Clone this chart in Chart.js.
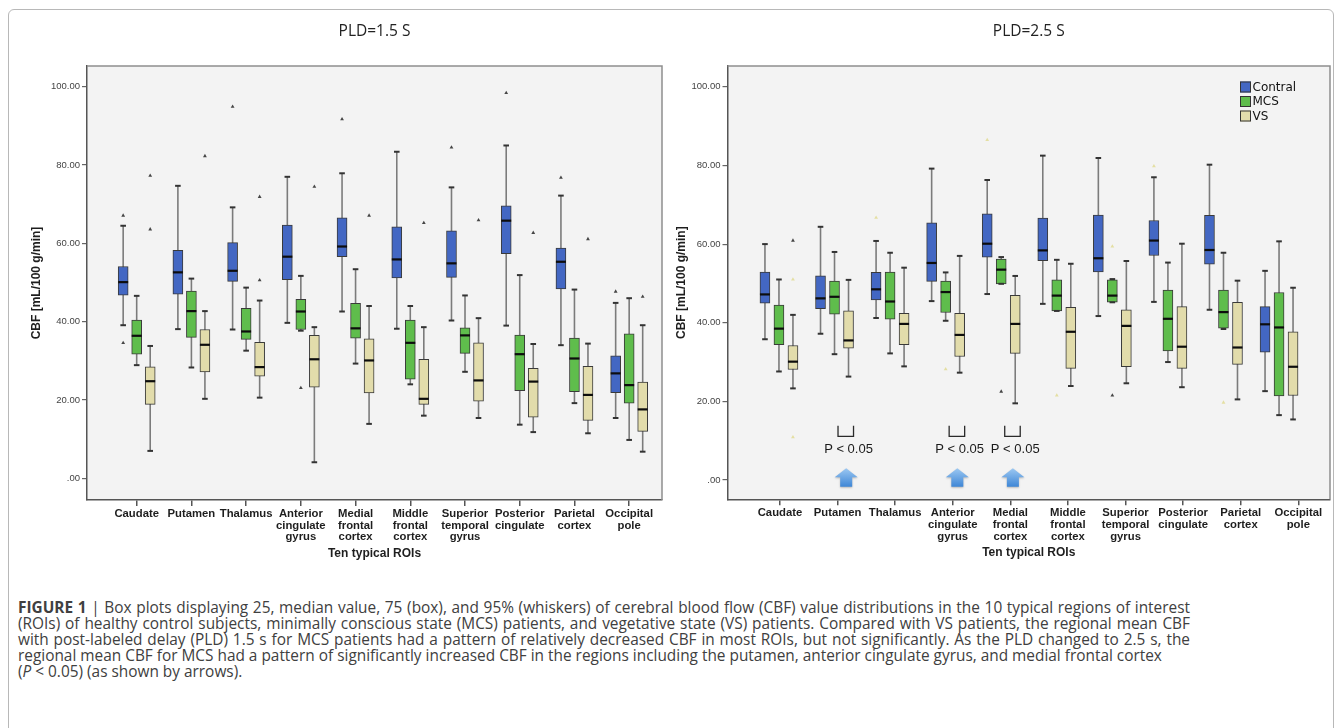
<!DOCTYPE html>
<html>
<head>
<meta charset="utf-8">
<script src="https://cdn.jsdelivr.net/npm/chart.js@4.4.1/dist/chart.umd.min.js"></script>
<style>
html,body{margin:0;padding:0;background:#fff;}
body{width:1342px;height:728px;position:relative;overflow:hidden;}
#frame{position:absolute;left:8px;top:9px;width:1326px;height:760px;border:1px solid #b8b8b8;border-radius:6px;box-sizing:border-box;}
#c1{position:absolute;left:0;top:0;}
#c2{position:absolute;left:670px;top:0;}
#caption{position:absolute;left:18px;top:600px;width:1172px;font-family:'Open Sans',Arial,sans-serif;font-size:15.4px;color:#404040;line-height:16.1px;}
.ln{white-space:nowrap;text-align:justify;text-align-last:justify;}
.ln.last{text-align-last:left;}
</style>
</head>
<body>
<div id="frame"></div>
<canvas id="c1" width="670" height="575"></canvas>
<canvas id="c2" width="672" height="575"></canvas>
<div id="caption">
<div class="ln"><b>FIGURE 1</b> | Box plots displaying 25, median value, 75 (box), and 95% (whiskers) of cerebral blood flow (CBF) value distributions in the 10 typical regions of interest</div>
<div class="ln">(ROIs) of healthy control subjects, minimally conscious state (MCS) patients, and vegetative state (VS) patients. Compared with VS patients, the regional mean CBF</div>
<div class="ln">with post-labeled delay (PLD) 1.5 s for MCS patients had a pattern of relatively decreased CBF in most ROIs, but not significantly. As the PLD changed to 2.5 s, the</div>
<div class="ln last">regional mean CBF for MCS had a pattern of significantly increased CBF in the regions including the putamen, anterior cingulate gyrus, and medial frontal cortex</div>
<div class="ln last">(<i>P</i> &lt; 0.05) (as shown by arrows).</div>
</div>
<script>
// ---------- DATA ----------
const categories = [['Caudate'],['Putamen'],['Thalamus'],['Anterior','cingulate','gyrus'],['Medial','frontal','cortex'],['Middle','frontal','cortex'],['Superior','temporal','gyrus'],['Posterior','cingulate'],['Parietal','cortex'],['Occipital','pole']];
const groupNames = ['Contral','MCS','VS'];
const yTickValues = [0,20,40,60,80,100];
const yTickLabels = ['.00','20.00','40.00','60.00','80.00','100.00'];
const panelTitles = ['PLD=1.5 S','PLD=2.5 S'];
const xAxisTitle = 'Ten typical ROIs';
const yAxisTitle = 'CBF [mL/100 g/min]';
const pValueLabel = 'P < 0.05';
const pld25SignificantRegions = ['Putamen','Anterior','Medial'];

// PLD = 1.5 s
const pld15ContralLow  = [39.1, 38.1, 38.0, 39.7, 42.6, 38.2, 40.3, 39.0, 34.0, 15.4];
const pld15ContralQ1   = [46.8, 47.0, 50.3, 50.7, 56.6, 51.2, 51.3, 57.4, 48.4, 21.9];
const pld15ContralMed  = [50.1, 52.6, 53.0, 56.6, 59.2, 55.9, 54.9, 65.8, 55.3, 26.8];
const pld15ContralQ3   = [54.1, 58.2, 60.2, 64.7, 66.5, 64.2, 63.2, 69.6, 58.8, 31.3];
const pld15ContralHigh = [64.5, 74.7, 69.2, 77.0, 77.9, 83.4, 74.3, 85.0, 72.2, 44.8];
const pld15ContralOutliers = [[1,67.1],[1,34.6],[3,94.9],[5,91.7],[7,84.5],[8,98.4],[9,76.8],[10,47.7]];

const pld15McsLow  = [28.9, 28.3, 32.6, 37.7, 29.3, 24.0, 27.2, 13.7, 19.2, 9.8];
const pld15McsQ1   = [31.7, 36.0, 35.5, 38.0, 35.8, 25.3, 31.9, 22.4, 22.1, 19.2];
const pld15McsMed  = [36.4, 42.7, 37.5, 42.6, 38.3, 34.6, 36.5, 31.7, 30.6, 23.8];
const pld15McsQ3   = [40.4, 47.8, 43.4, 45.7, 44.7, 40.4, 38.4, 36.6, 35.8, 36.9];
const pld15McsHigh = [46.6, 51.0, 48.7, 51.7, 53.4, 44.0, 46.7, 51.9, 48.2, 46.0];
const pld15McsOutliers = [[4,23.1]];

const pld15VsLow  = [7.0, 20.3, 20.6, 4.1, 13.9, 16.0, 15.4, 11.8, 11.5, 6.8];
const pld15VsQ1   = [18.9, 27.2, 26.1, 23.3, 21.8, 18.9, 19.7, 15.6, 14.8, 12.0];
const pld15VsMed  = [24.8, 34.1, 28.4, 30.4, 30.1, 20.3, 25.0, 24.7, 21.3, 17.6];
const pld15VsQ3   = [28.5, 38.0, 34.7, 36.5, 35.6, 30.4, 34.6, 28.1, 28.6, 24.6];
const pld15VsHigh = [33.8, 42.7, 45.4, 38.6, 44.0, 38.6, 40.9, 34.3, 34.4, 39.1];
const pld15VsOutliers = [[1,77.3],[1,63.6],[2,82.3],[3,71.9],[3,50.6],[4,74.5],[5,67.1],[6,65.2],[7,65.9],[8,62.7],[9,61.1],[10,46.4]];

// PLD = 2.5 s
const pld25ContralLow  = [35.8, 37.2, 41.2, 45.5, 47.3, 44.8, 41.7, 45.3, 43.3, 22.6];
const pld25ContralQ1   = [45.0, 43.6, 45.8, 50.5, 56.7, 55.8, 52.9, 57.1, 54.9, 32.5];
const pld25ContralMed  = [47.2, 46.2, 48.5, 55.2, 60.1, 58.4, 56.4, 60.9, 58.5, 39.6];
const pld25ContralQ3   = [52.9, 51.9, 52.8, 65.4, 67.7, 66.6, 67.4, 66.0, 67.3, 44.1];
const pld25ContralHigh = [60.0, 64.4, 60.8, 79.2, 76.3, 82.5, 81.9, 77.0, 80.2, 53.2];
const pld25ContralOutliers = [];
const pld25ContralExtremes = [[3,66.7],[5,86.5],[8,79.8]];

const pld25McsLow  = [27.6, 32.0, 32.2, 40.5, 49.9, 43.0, 45.2, 30.0, 38.4, 16.5];
const pld25McsQ1   = [34.4, 42.2, 40.9, 42.6, 49.9, 43.0, 45.2, 32.8, 38.6, 21.4];
const pld25McsMed  = [38.5, 46.6, 45.4, 47.8, 53.5, 46.9, 46.9, 41.0, 42.7, 38.8];
const pld25McsQ3   = [44.5, 50.6, 52.9, 50.6, 56.2, 50.9, 50.9, 48.3, 48.3, 47.7];
const pld25McsHigh = [51.0, 58.0, 57.8, 52.8, 56.7, 56.0, 51.1, 55.3, 57.8, 60.7];
const pld25McsOutliers = [[5,22.5],[7,21.5]];
const pld25McsExtremes = [[4,28.2],[6,21.5],[7,59.4],[9,19.7]];

const pld25VsLow  = [23.3, 26.3, 28.9, 27.3, 19.5, 23.9, 24.6, 23.6, 20.5, 15.4];
const pld25VsQ1   = [28.1, 33.5, 34.4, 31.4, 32.2, 28.4, 28.8, 28.4, 29.4, 21.5];
const pld25VsMed  = [30.1, 35.5, 39.7, 36.9, 39.7, 37.7, 39.2, 33.9, 33.7, 28.8];
const pld25VsQ3   = [34.2, 43.0, 42.4, 42.4, 47.0, 43.9, 43.3, 44.1, 45.2, 37.7];
const pld25VsHigh = [42.0, 50.9, 54.0, 57.0, 51.9, 55.0, 55.7, 60.1, 50.7, 48.9];
const pld25VsOutliers = [[1,60.9]];
const pld25VsExtremes = [[1,51.0],[1,10.9]];

// ---------- STYLE ----------
const groupColors = ['#4367c3','#5fbd4c','#e2dcab'];
const plotBg = '#f3f3f3';

// ---------- PLUGIN ----------
const boxExtras = {
  id: 'boxExtras',
  beforeDraw(chart) {
    const {ctx, chartArea: a} = chart;
    ctx.save();
    ctx.fillStyle = plotBg;
    ctx.fillRect(a.left, a.top, a.right - a.left, a.bottom - a.top);
    ctx.restore();
  },
  beforeDatasetsDraw(chart, args, o) {
    const ctx = chart.ctx, y = chart.scales.y;
    ctx.save();
    ctx.strokeStyle = '#7b7b7b';
    ctx.lineWidth = 1.6;
    o.stats.forEach((s, di) => {
      chart.getDatasetMeta(di).data.forEach((bar, i) => {
        ctx.beginPath();
        ctx.moveTo(bar.x, y.getPixelForValue(s.high[i]));
        ctx.lineTo(bar.x, y.getPixelForValue(s.low[i]));
        ctx.stroke();
      });
    });
    ctx.restore();
  },
  afterDatasetsDraw(chart, args, o) {
    const ctx = chart.ctx, y = chart.scales.y;
    ctx.save();
    o.stats.forEach((s, di) => {
      chart.getDatasetMeta(di).data.forEach((bar, i) => {
        ctx.strokeStyle = '#333';
        ctx.lineWidth = 2;
        [s.high[i], s.low[i]].forEach(v => {
          const py = y.getPixelForValue(v);
          ctx.beginPath(); ctx.moveTo(bar.x - 2.8, py); ctx.lineTo(bar.x + 2.8, py); ctx.stroke();
        });
        const pm = y.getPixelForValue(s.med[i]);
        ctx.strokeStyle = '#0d0d0d';
        ctx.lineWidth = 2.2;
        ctx.beginPath(); ctx.moveTo(bar.x - bar.width / 2, pm); ctx.lineTo(bar.x + bar.width / 2, pm); ctx.stroke();
      });
    });
    ctx.restore();
  },
  afterDraw(chart, args, o) {
    const {ctx, chartArea: a} = chart;
    ctx.save();
    ctx.strokeStyle = '#8e8e8e';
    ctx.lineWidth = 1.5;
    ctx.beginPath();
    ctx.moveTo(a.left, a.top); ctx.lineTo(a.right, a.top); ctx.lineTo(a.right, a.bottom);
    ctx.stroke();
    if (o.legend) {
      const x = a.right - 90, y0 = a.top + 21;
      ctx.font = '12px "DejaVu Sans"';
      ctx.textBaseline = 'middle';
      chart.data.datasets.slice(0, 3).forEach((d, i) => {
        const yy = y0 + i * 14.5;
        ctx.fillStyle = d.backgroundColor;
        ctx.fillRect(x, yy - 5.5, 11, 11);
        ctx.strokeStyle = '#333'; ctx.lineWidth = 1;
        ctx.strokeRect(x + 0.5, yy - 5, 10, 10);
        ctx.fillStyle = '#111';
        ctx.fillText(d.label, x + 12.5, yy + 0.5);
      });
    }
    if (o.sig) {
      const xb = chart.scales.xb, y = chart.scales.y;
      o.sig.forEach(ci => {
        const gx = d => xb.getPixelForValue(ci + d);
        const x1 = gx(0.063), x2 = gx(0.342);
        const yt = y.getPixelForValue(13.8), ybt = y.getPixelForValue(11.1);
        ctx.strokeStyle = '#2a2a2a'; ctx.lineWidth = 1.3;
        ctx.beginPath(); ctx.moveTo(x1, yt); ctx.lineTo(x1, ybt); ctx.lineTo(x2, ybt); ctx.lineTo(x2, yt); ctx.stroke();
        ctx.fillStyle = '#1a1a1a';
        ctx.font = '13px "Liberation Sans"';
        ctx.textAlign = 'center'; ctx.textBaseline = 'middle';
        ctx.fillText(pValueLabel, gx(0.252), y.getPixelForValue(7.9));
        const cx = gx(0.21), top = y.getPixelForValue(3.0), bot = y.getPixelForValue(-1.7);
        const hh = 9;
        const g = ctx.createLinearGradient(0, top, 0, bot);
        g.addColorStop(0, '#9cc8f2'); g.addColorStop(1, '#3f87d6');
        ctx.save();
        ctx.shadowColor = 'rgba(0,0,0,0.25)'; ctx.shadowBlur = 2; ctx.shadowOffsetY = 1;
        ctx.fillStyle = g;
        ctx.beginPath();
        ctx.moveTo(cx, top); ctx.lineTo(cx + 11.5, top + hh); ctx.lineTo(cx + 6, top + hh);
        ctx.lineTo(cx + 6, bot); ctx.lineTo(cx - 6, bot); ctx.lineTo(cx - 6, top + hh);
        ctx.lineTo(cx - 11.5, top + hh); ctx.closePath(); ctx.fill();
        ctx.restore();
      });
    }
    ctx.restore();
  }
};

// ---------- BUILD ----------
function boxDataset(label, color, q1, q3, off) {
  return {type: 'bar', label, xAxisID: 'xb', grouped: false,
    data: q1.map((v, i) => ({x: i + 1 + off, y: [v, q3[i]]})),
    backgroundColor: color, borderColor: '#3a3a3a', borderWidth: 1, borderSkipped: false, barThickness: 10};
}
function pointDataset(pts, off, color) {
  return {type: 'scatter', xAxisID: 'xb', data: pts.map(([c, v]) => ({x: c + off, y: v})),
    pointStyle: 'triangle', radius: 2.2, backgroundColor: color, borderWidth: 0};
}

function makePanel(id, p) {
  const offs = [-p.off, 0, p.off];
  const datasets = [0, 1, 2].map(k => boxDataset(groupNames[k], groupColors[k], p.groups[k].q1, p.groups[k].q3, offs[k]));
  p.groups.forEach((g, k) => {
    if (g.out.length) datasets.push(pointDataset(g.out, offs[k], '#454545'));
    if (g.ext && g.ext.length) datasets.push(pointDataset(g.ext, offs[k], '#e4dfa3'));
  });
  new Chart(document.getElementById(id), {
    type: 'bar',
    data: {datasets},
    plugins: [boxExtras],
    options: {
      responsive: false, animation: false, devicePixelRatio: 1,
      layout: {padding: {left: p.padL, right: p.padR, top: 0, bottom: p.padB}},
      plugins: {
        legend: {display: false}, tooltip: {enabled: false},
        title: {display: true, text: p.title, fullSize: false, color: '#222',
          font: {family: 'Open Sans', size: 15.5, weight: 'normal'}, padding: {top: 22, bottom: 25.4}},
        boxExtras: {stats: p.groups.map(g => ({low: g.low, med: g.med, high: g.high})), legend: p.legend, sig: p.sig}
      },
      scales: {
        x: {type: 'linear', position: 'bottom', min: p.xMin, max: p.xMax, offset: false,
          afterBuildTicks: s => { s.ticks = categories.map((c, i) => ({value: i + 1})); },
          afterFit: s => { s.height = 65; },
          ticks: {callback: v => categories[Math.round(v) - 1], autoSkip: false, maxRotation: 0, padding: 2,
            color: '#1e1e1e', font: {family: 'Liberation Sans', weight: 'bold', size: 11.3, lineHeight: 1.03}},
          grid: {offset: false, drawOnChartArea: false, tickLength: 6, color: '#555', lineWidth: 1.5},
          border: {color: '#555', width: 1.5},
          title: {display: true, text: xAxisTitle, color: '#1e1e1e', padding: {top: 4, bottom: 4},
            font: {family: 'Liberation Sans', weight: 'bold', size: 12}}},
        xb: {type: 'linear', axis: 'x', position: 'bottom', display: false, offset: false,
          grid: {offset: false}, min: p.xbMin, max: p.xbMax},
        y: {type: 'linear', min: p.yMin, max: p.yMax,
          afterBuildTicks: s => { s.ticks = yTickValues.map(v => ({value: v})); },
          afterFit: s => { s.width = p.yW; },
          ticks: {callback: v => yTickLabels[yTickValues.indexOf(v)], padding: 2, color: '#444',
            font: {family: 'Liberation Sans', size: 9.5}},
          grid: {drawOnChartArea: false, tickLength: 5, color: '#666', lineWidth: 1.2},
          border: {color: '#555', width: 1.5},
          title: {display: true, text: yAxisTitle, color: '#1e1e1e', padding: {top: 4, bottom: 4},
            font: {family: 'Liberation Sans', weight: 'bold', size: 12}}}
      }
    }
  });
}

makePanel('c1', {
  title: panelTitles[0], off: 0.247, padL: 25.8, yW: 61.2, padR: 8, padB: 10,
  xMin: 0.092, xMax: 10.6, xbMin: 0.092, xbMax: 10.6, yMin: -5.54, yMax: 105.3,
  groups: [
    {low: pld15ContralLow, q1: pld15ContralQ1, med: pld15ContralMed, q3: pld15ContralQ3, high: pld15ContralHigh, out: pld15ContralOutliers},
    {low: pld15McsLow, q1: pld15McsQ1, med: pld15McsMed, q3: pld15McsQ3, high: pld15McsHigh, out: pld15McsOutliers},
    {low: pld15VsLow, q1: pld15VsQ1, med: pld15VsMed, q3: pld15VsQ3, high: pld15VsHigh, out: pld15VsOutliers}
  ]
});

makePanel('c2', {
  title: panelTitles[1], off: 0.252, padL: 0.8, yW: 56.7, padR: 12, padB: 10.7,
  xMin: 0.089, xMax: 10.55, xbMin: 0.074, xbMax: 10.917, yMin: -4.91, yMax: 105.3,
  legend: true,
  sig: pld25SignificantRegions.map(n => categories.findIndex(c => c[0] === n) + 1),
  groups: [
    {low: pld25ContralLow, q1: pld25ContralQ1, med: pld25ContralMed, q3: pld25ContralQ3, high: pld25ContralHigh, out: pld25ContralOutliers, ext: pld25ContralExtremes},
    {low: pld25McsLow, q1: pld25McsQ1, med: pld25McsMed, q3: pld25McsQ3, high: pld25McsHigh, out: pld25McsOutliers, ext: pld25McsExtremes},
    {low: pld25VsLow, q1: pld25VsQ1, med: pld25VsMed, q3: pld25VsQ3, high: pld25VsHigh, out: pld25VsOutliers, ext: pld25VsExtremes}
  ]
});
</script>
</body>
</html>
